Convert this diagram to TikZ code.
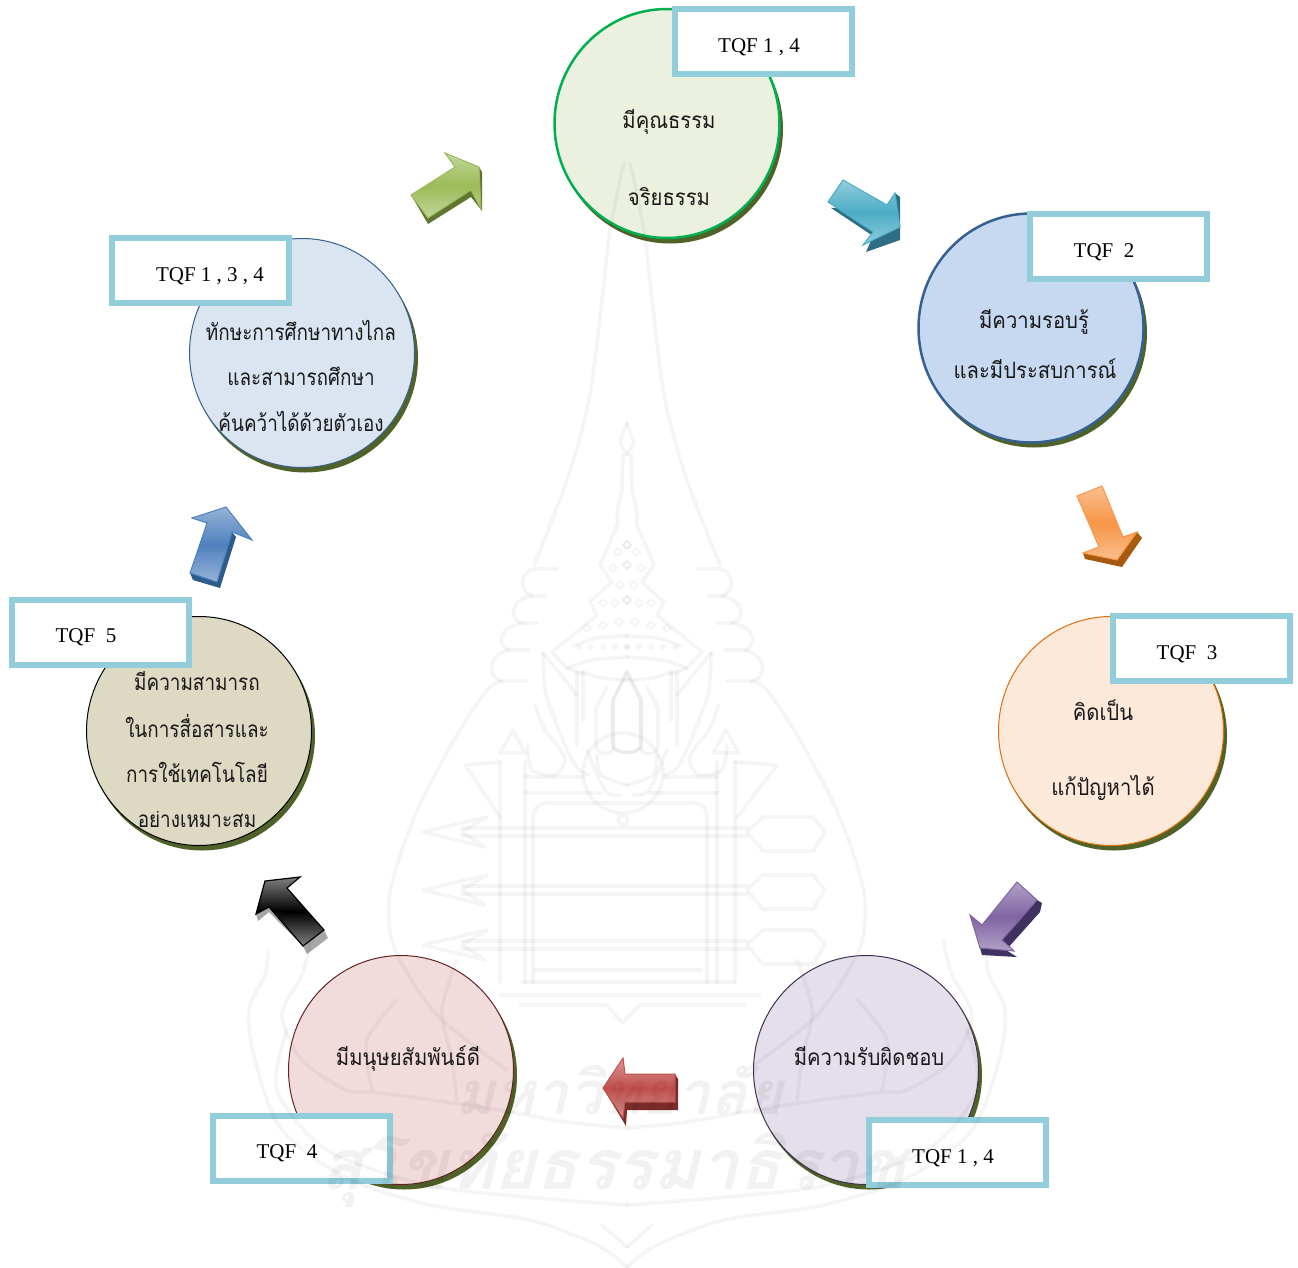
\documentclass[tikz,border=0pt]{standalone}
\usepackage{fontspec}
\setmainfont{Liberation Serif}
\newfontfamily\thaifont[Script=Thai,FakeStretch=0.84]{Loma}
\newfontfamily\thaiwide[Script=Thai,FakeStretch=0.90]{Loma}
\newfontfamily\sealfont[Script=Thai]{Loma}
\usetikzlibrary{shadings,shapes.geometric}
\definecolor{boxblue}{HTML}{92CDDC}
\definecolor{shadowgreen}{HTML}{4F6228}
\definecolor{f1}{HTML}{EBF1DE}\definecolor{e1}{HTML}{00B050}
\definecolor{f2}{HTML}{C6D9F1}\definecolor{e2}{HTML}{366092}
\definecolor{f3}{HTML}{FDE9D9}\definecolor{e3}{HTML}{E36C0A}
\definecolor{f4}{HTML}{E5DFEC}\definecolor{e4}{HTML}{3F3151}
\definecolor{f5}{HTML}{F2DCDB}\definecolor{e5}{HTML}{632423}
\definecolor{f6}{HTML}{DDD9C3}
\definecolor{f7}{HTML}{DBE5F1}
\definecolor{greenL}{HTML}{C3D69B}\definecolor{greenM}{HTML}{9BBB59}\definecolor{greenD}{HTML}{5F7530}
\definecolor{cyanL}{HTML}{92CDDC}\definecolor{cyanM}{HTML}{4BACC6}\definecolor{cyanD}{HTML}{2F6D82}
\definecolor{orangeL}{HTML}{FABF8F}\definecolor{orangeM}{HTML}{F79646}\definecolor{orangeD}{HTML}{A85A10}
\definecolor{purpleL}{HTML}{B2A1C7}\definecolor{purpleM}{HTML}{8064A2}\definecolor{purpleD}{HTML}{403160}
\definecolor{redL}{HTML}{D99694}\definecolor{redM}{HTML}{C0504D}\definecolor{redD}{HTML}{7B2C2A}
\definecolor{blueL}{HTML}{95B3D7}\definecolor{blueM}{HTML}{4F81BD}\definecolor{blueD}{HTML}{2C5D8A}
\tikzset{
  x=1pt,y=-1pt,
  disc/.style={ellipse,minimum width=225pt,minimum height=229pt,inner sep=0pt,outer sep=0pt,draw=#1},
  discshadow/.style={ellipse,minimum width=226pt,minimum height=229pt,inner sep=0pt,fill=shadowgreen},
  tqfbox/.style={draw=boxblue,line width=6pt,fill=white,minimum width=177pt,minimum height=65pt,inner sep=0pt},
  tqf/.style={font=\fontsize{21}{24}\selectfont,inner sep=0pt,text=black},
  thai/.style={font=\thaifont\fontsize{22.5}{26}\selectfont,inner sep=0pt,text=black!90},
  thaiw/.style={font=\thaiwide\fontsize{22.5}{26}\selectfont,inner sep=0pt,text=black!90},
  wm/.style={draw=black,opacity=.04,line width=3.6pt,line join=round,line cap=round},
  wmdot/.style={fill=black,opacity=.04},
  wmtext/.style={text=black,opacity=.05,inner sep=0pt,font=\sealfont\bfseries\fontsize{#1}{70}\selectfont,xslant=.25},
}
% block arrow: light, main, dark, main outline, shadow outline
\newcommand\blockarrow[5]{%
  \fill[#3] #5 -- cycle;
  \draw[line width=1pt,draw=#2,line join=miter,top color=#1,bottom color=#1,middle color=#2] #4 -- cycle;
}
% half of the seal, offsets from its axis
\newcommand\sealhalf{%
  \draw[wm] plot[smooth] coordinates {(3,163)(8,185)(18,237)(25,300)(38,400)(60,480)(93,565)};
  \draw[wm] (70,569) -- (93,569) .. controls (108,572) and (108,592) .. (95,596) -- (81,596);
  \draw[wm] (95,596) .. controls (118,600) and (118,620) .. (105,623) -- (90,623);
  \draw[wm] (105,623) .. controls (130,628) and (130,646) .. (118,650) -- (98,650);
  \draw[wm] (118,650) .. controls (140,655) and (140,678) .. (125,681) -- (100,681);
  \draw[wm] plot[smooth] coordinates {(125,681)(140,690)(170,735)(205,800)(225,850)(238,900)(232,950)(190,1015)(120,1070)};
  \draw[wm] plot[smooth] coordinates {(359,952)(362,975)(378,1010)(372,1060)(345,1130)(280,1178)(197,1205)(97,1220)(30,1245)(0,1267)};
  \draw[wm] plot[smooth] coordinates {(316,940)(325,975)(345,1015)(325,1060)(280,1090)(246,1093)(146,1107)(60,1122)(0,1128)};
  \draw[wm] plot[smooth] coordinates {(340,1030)(350,1090)(300,1150)(200,1185)(100,1197)(0,1205)};
  \draw[wm] plot[smooth] coordinates {(230,1000)(260,1040)(255,1090)};
  \draw[wm] plot[smooth] coordinates {(170,960)(185,1010)(175,1060)(170,1100)};
  \draw[wm] (25,1225) -- (0,1247);
  % spire and crown
  \draw[wm] (0,423) -- (7,443) -- (0,455) (4,455) -- (5,490) -- (9,507) -- (10,515) -- (9,523) -- (27,565) -- (15,582) -- (37,602) -- (30,615) -- (75,652) -- (60,668) -- (45,674);
  \draw[wm] plot[smooth] coordinates {(0,636)(30,638)(54,646)};
  \draw[wm] plot[smooth] coordinates {(0,657)(35,660)(60,668)};
  \draw[wm] plot[smooth] coordinates {(0,680)(25,678)(45,672)};
  \foreach \dx/\dy in {0/545,9/552,0/565,14/568,7/585,0/600,12/603,24/603,8/622,24/625,40/628}{
    \draw[wm,line width=2pt] (\dx,\dy-4) -- (\dx+4,\dy) -- (\dx,\dy+4) -- (\dx-4,\dy) -- cycle;
  }
  \foreach \dx in {0,12,24,36,48}{ \fill[wmdot] (\dx,647) circle[radius=3]; }
  % trident and dragons
  \draw[wm] (0,672) -- (14,700) -- (14,745) .. controls (14,755) and (-14,755) .. (-14,745) -- (-14,700) -- cycle;
  \draw[wm] (20,687) -- (31,708) -- (31,745) .. controls (31,756) and (14,756) .. (14,748);
  \draw[wm] (50,672) -- (50,745) (44,672) -- (44,720);
  \draw[wm] plot[smooth] coordinates {(84,653)(82,690)(72,720)(62,745)(50,768)(38,775)};
  \draw[wm] (84,653) -- (50,695);
  \draw[wm] plot[smooth] coordinates {(92,705)(82,730)(70,745)(62,760)(72,775)(95,770)(100,745)};
  \draw[wm] plot[smooth] coordinates {(40,750)(22,790)(6,795)};
  \draw[wm] plot[smooth] coordinates {(30,755)(26,775)(0,785)};
}
\begin{document}
\begin{tikzpicture}
\useasboundingbox (0,0) rectangle (1298,1267);
\fill[white] (0,0) rectangle (1298,1267);

% discs
\node[discshadow] (s1) at (670,129) {};
\node[discshadow] (s2) at (1034,333) {};
\node[discshadow] (s3) at (1114,736) {};
\node[discshadow] (s4) at (869,1075) {};
\node[discshadow] (s5) at (404,1075) {};
\node[discshadow] (s6) at (202,736) {};
\node[discshadow] (s7) at (305,358) {};
\node[disc=e1,line width=2.5pt,fill=f1] (c1) at (667,123.5) {};
\node[disc=e2,line width=2.5pt,fill=f2] (c2) at (1031,328) {};
\node[disc=e3,line width=1pt,fill=f3] (c3) at (1111,731) {};
\node[disc=e4,line width=1pt,fill=f4] (c4) at (866,1070) {};
\node[disc=e5,line width=1pt,fill=f5] (c5) at (401,1070) {};
\node[disc=black,line width=1pt,fill=f6] (c6) at (199,731) {};
\node[disc=e2,line width=1pt,fill=f7] (c7) at (302,353) {};

% disc texts
\node[thaiw] (t1a) at (669,122) {มีคุณธรรม};
\node[thaiw] (t1b) at (669,197) {จริยธรรม};
\node[thaiw] (t2a) at (1034,322) {มีความรอบรู้};
\node[thaiw] (t2b) at (1035,369) {และมีประสบการณ์};
\node[thaiw] (t3a) at (1103,710) {คิดเป็น};
\node[thaiw] (t3b) at (1103,788) {แก้ปัญหาได้};
\node[thaiw] (t4) at (869,1056) {มีความรับผิดชอบ};
\node[thaiw] (t5) at (408,1059) {มีมนุษยสัมพันธ์ดี};
\node[thai] (t6a) at (197,681) {มีความสามารถ};
\node[thai] (t6b) at (197,726) {ในการสื่อสารและ};
\node[thai] (t6c) at (197,772) {การใช้เทคโนโลยี};
\begin{scope}
  \clip (100,811) rectangle (300,826);
  \node[thai] (t6d) at (197,819) {อย่างเหมาะสม};
\end{scope}
\node[thai] (t7a) at (301,330) {ทักษะการศึกษาทางไกล};
\node[thai] (t7b) at (301,376) {และสามารถศึกษา};
\node[thai] (t7c) at (301,421) {ค้นคว้าได้ด้วยตัวเอง};

% label boxes
\node[tqfbox] (b1) at (763,41.5) {};
\node[tqfbox] (b2) at (1118.5,246) {};
\node[tqfbox] (b3) at (1201.5,648) {};
\node[tqfbox] (b4) at (957.5,1152) {};
\node[tqfbox] (b5) at (301.5,1148) {};
\node[tqfbox] (b6) at (100.5,632) {};
\node[tqfbox] (b7) at (200.5,270.5) {};
\node[tqf] (q1) at (759,47) {TQF 1 , 4};
\node[tqf] (q2) at (1104,252) {TQF\ \ 2};
\node[tqf] (q3) at (1187,654) {TQF\ \ 3};
\node[tqf] (q4) at (953,1158) {TQF 1 , 4};
\node[tqf] (q5) at (287,1153) {TQF\ \ 4};
\node[tqf] (q6) at (86,637) {TQF\ \ 5};
\node[tqf] (q7) at (210,276) {TQF 1 , 3 , 4};

% block arrows
\blockarrow{greenL}{greenM}{greenD}
  {(411,195) -- (428,218) -- (471,190) -- (481,209) -- (479,167) -- (445,153) -- (455,167)}
  {(411,195) -- (428,224) -- (471,197) -- (482,211) -- (482,172) -- (479,167)}
\blockarrow{cyanL}{cyanM}{cyanD}
  {(828,202) -- (843,180) -- (887,205) -- (895,193) -- (900,227) -- (863,245) -- (873,232)}
  {(831,208) -- (873,236) -- (866,252) -- (900,240) -- (900,197) -- (895,193) -- (887,205)}
\blockarrow{orangeL}{orangeM}{orangeD}
  {(1077,496) -- (1102,486) -- (1123,537) -- (1137,532) -- (1117,560) -- (1083,553) -- (1099,547)}
  {(1137,532) -- (1142,538) -- (1122,567) -- (1085,559) -- (1083,553) -- (1117,560)}
\blockarrow{purpleL}{purpleM}{purpleD}
  {(1017,882) -- (1037,900) -- (1002,940) -- (1014,951) -- (980,948) -- (970,915) -- (982,925)}
  {(1037,900) -- (1042,903) -- (1040,912) -- (1006,950) -- (1017,957) -- (982,955) -- (980,948) -- (1014,951) -- (1002,940)}
\blockarrow{redL}{redM}{redD}
  {(603,1088) -- (623,1058) -- (625,1074) -- (675,1074) -- (675,1102) -- (625,1102) -- (623,1118)}
  {(603,1088) -- (626,1126) -- (627,1110) -- (678,1110) -- (678,1079) -- (675,1074) -- (675,1102) -- (625,1102) -- (623,1118)}
\fill[gray!70] (324,930) -- (328,938) -- (307,954) -- (303,946) -- (269,912) -- (258,921) -- (256,914) -- (269,907) -- (303,946) -- cycle;
\draw[line width=1.2pt,draw=black,line join=miter,top color=gray,bottom color=gray,middle color=black]
  (324,930) -- (303,946) -- (269,907) -- (256,914) -- (265,881) -- (300,877) -- (287,888) -- cycle;
\blockarrow{blueL}{blueM}{blueD}
  {(190,573) -- (217,582) -- (232,532) -- (252,540) -- (226,507) -- (192,518) -- (207,523)}
  {(190,573) -- (193,580) -- (220,588) -- (236,537) -- (232,532) -- (217,582)}

% seal watermark, over everything
\begin{scope}[shift={(627,0)}]\sealhalf\end{scope}
\begin{scope}[shift={(627,0)},xscale=-1]\sealhalf\end{scope}
\foreach \ya in {832,890,945}{
  \draw[wm] (423,\ya) -- (487,\ya-15) -- (462,\ya) -- (485,\ya+15) -- cycle;
  \draw[wm] (462,\ya-4) -- (747,\ya-4) (462,\ya+4) -- (747,\ya+4);
  \draw[wm] (747,\ya) -- (763,\ya-15) -- (813,\ya-15) -- (825,\ya) -- (813,\ya+19) -- (763,\ya+19) -- cycle;
}
\draw[wm] (513,730) -- (500,753) -- (525,753) -- cycle (500,762) -- (500,982) (525,762) -- (525,982);
\draw[wm] (726,730) -- (713,753) -- (739,753) -- cycle (717,762) -- (717,982) (735,762) -- (735,982);
\draw[wm] (465,765) -- (500,762) (465,765) -- (500,817) (777,765) -- (735,762) (777,765) -- (737,817);
\draw[wm] (525,777) -- (583,777) (665,777) -- (717,777) (525,793) -- (600,793) (650,793) -- (717,793);
\draw[wm] (533,982) -- (533,820) .. controls (533,806) and (540,803) .. (550,803) -- (690,803) .. controls (702,803) and (707,806) .. (707,820) -- (707,982);
\draw[wm] (535,970) -- (702,970) (522,982) -- (735,982) (500,995) -- (760,995) (520,1005) -- (607,1005) -- (622,1023) -- (640,1005) -- (745,1005);
\draw[wm] (623,773) circle[radius=40] (623,820) circle[radius=5];
\node[wmtext=60] (w1) at (625,1090) {มหาวิทยาลัย};
\node[wmtext=70] (w2) at (618,1170) {สุโขทัยธรรมาธิราช};
\end{tikzpicture}
\end{document}
